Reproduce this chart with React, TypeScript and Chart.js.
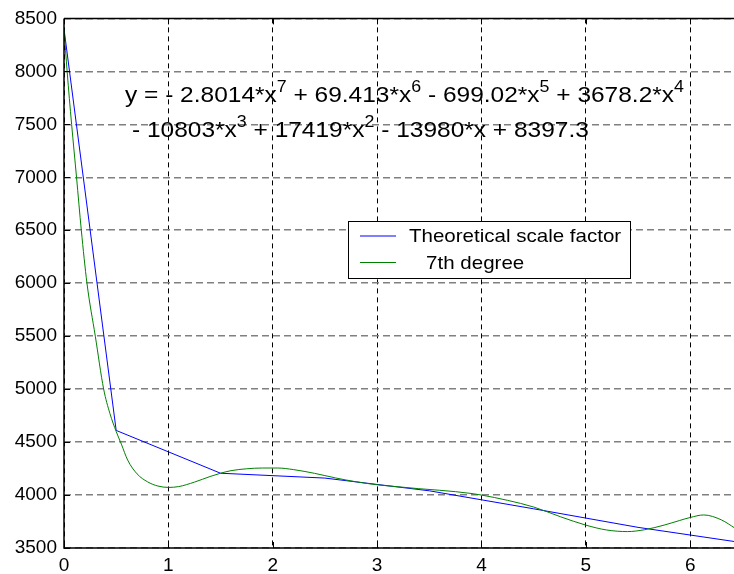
import React, { useEffect, useRef } from 'react';
import { Chart, registerables } from 'chart.js';

Chart.register(...registerables);

// ---- data ----
const theoryX = [0, 0.5, 1.5, 2.5, 3.5, 4.5, 5.5, 6.5];
const theoryY = [8400, 4610, 4206, 4160, 4040, 3870, 3695, 3550];

const fitX = [0, 0.03, 0.073, 0.12, 0.166, 0.22, 0.3, 0.38, 0.44, 0.5, 0.55, 0.61, 0.7, 0.8, 0.9, 1.0, 1.1, 1.25, 1.4, 1.5, 1.6, 1.75, 1.9, 2.05, 2.2, 2.4, 2.6, 2.8, 3.0, 3.2, 3.4, 3.6, 3.75, 3.9, 4.0, 4.25, 4.5, 4.76, 5.0, 5.2, 5.4, 5.56, 5.75, 5.9, 6.0, 6.13, 6.3, 6.43];
const fitY = [8400, 8000, 7500, 7000, 6500, 6000, 5500, 5000, 4770, 4600, 4480, 4330, 4200, 4125, 4085, 4072, 4080, 4122, 4175, 4206, 4230, 4248, 4255, 4255, 4240, 4205, 4162, 4125, 4097, 4078, 4060, 4045, 4032, 4015, 4000, 3950, 3887, 3794, 3716, 3670, 3655, 3672, 3716, 3760, 3788, 3812, 3765, 3687];

const seriesLabels = ['Theoretical scale factor', '   7th degree'];
const seriesColors = ['#0000ff', '#008000'];

const xTicks = [0, 1, 2, 3, 4, 5, 6];
const yTicks = [3500, 4000, 4500, 5000, 5500, 6000, 6500, 7000, 7500, 8000, 8500];
const xMin = 0;
const xMax = 6.42;
const yMin = 3500;
const yMax = 8500;

type Part = { t: string; sup?: boolean };
const eqLine1: Part[] = [
  { t: 'y = - 2.8014*x' }, { t: '7', sup: true },
  { t: ' + 69.413*x' }, { t: '6', sup: true },
  { t: ' - 699.02*x' }, { t: '5', sup: true },
  { t: ' + 3678.2*x' }, { t: '4', sup: true },
];
const eqLine2: Part[] = [
  { t: '- 10803*x' }, { t: '3', sup: true },
  { t: ' + 17419*x' }, { t: '2', sup: true },
  { t: ' - 13980*x + 8397.3' },
];

const FONT = '"Liberation Sans", Arial, Helvetica, sans-serif';

function drawRich(ctx: CanvasRenderingContext2D, parts: Part[], x: number, y: number, size: number, supSize: number, rise: number, sx: number) {
  ctx.save();
  ctx.translate(x, y);
  ctx.scale(sx, 1);
  ctx.fillStyle = '#000';
  ctx.textBaseline = 'alphabetic';
  ctx.textAlign = 'left';
  let cx = 0;
  for (const p of parts) {
    ctx.font = `${p.sup ? supSize : size}px ${FONT}`;
    ctx.fillText(p.t, cx, p.sup ? -rise : 0);
    cx += ctx.measureText(p.t).width;
  }
  ctx.restore();
}

const decorPlugin = {
  id: 'decor',
  afterDatasetsDraw(chart: any) {
    const { ctx, chartArea } = chart;
    const xs = chart.scales.x;
    const ys = chart.scales.y;
    ctx.save();
    ctx.strokeStyle = '#000';
    ctx.lineWidth = 1.5;
    ctx.setLineDash([]);
    ctx.beginPath();
    ctx.moveTo(chartArea.left, chartArea.top);
    ctx.lineTo(chartArea.right + 2, chartArea.top);
    ctx.moveTo(chartArea.left, chartArea.top);
    ctx.lineTo(chartArea.left, chartArea.bottom);
    ctx.lineTo(chartArea.right + 2, chartArea.bottom);
    ctx.stroke();
    ctx.lineWidth = 1;
    ctx.beginPath();
    for (const v of yTicks) {
      const py = Math.round(ys.getPixelForValue(v)) + 0.5;
      ctx.moveTo(chartArea.left, py);
      ctx.lineTo(chartArea.left + 6, py);
    }
    for (const v of xTicks) {
      const px = Math.round(xs.getPixelForValue(v)) + 0.5;
      ctx.moveTo(px, chartArea.bottom);
      ctx.lineTo(px, chartArea.bottom - 6);
      ctx.moveTo(px, chartArea.top);
      ctx.lineTo(px, chartArea.top + 6);
    }
    ctx.stroke();
    ctx.restore();
  },
  afterDraw(chart: any) {
    const { ctx } = chart;
    // equation annotation
    drawRich(ctx, eqLine1, 125, 102, 22, 16, 10, 1.113);
    drawRich(ctx, eqLine2, 132, 137, 22, 16, 10, 1.113);

    // legend box
    const bx = 348.5, by = 221.5, bw = 282, bh = 57;
    ctx.save();
    ctx.fillStyle = '#fff';
    ctx.fillRect(bx, by, bw, bh);
    ctx.strokeStyle = '#000';
    ctx.lineWidth = 1;
    ctx.setLineDash([]);
    ctx.strokeRect(bx, by, bw, bh);
    chart.data.datasets.forEach((ds: any, i: number) => {
      const ly = 236 + i * 26.5;
      ctx.strokeStyle = ds.borderColor;
      ctx.lineWidth = 1;
      ctx.beginPath();
      ctx.moveTo(360, ly);
      ctx.lineTo(396, ly);
      ctx.stroke();
      ctx.save();
      ctx.translate(409, ly + 6);
      ctx.scale(1.08, 1);
      ctx.fillStyle = '#000';
      ctx.font = `19px ${FONT}`;
      ctx.textBaseline = 'alphabetic';
      ctx.fillText(ds.label, 0, 0);
      ctx.restore();
    });
    ctx.restore();
  },
};

export default function App() {
  const ref = useRef<HTMLCanvasElement | null>(null);
  useEffect(() => {
    document.body.style.margin = '0';
    if (!ref.current) return;
    const chart = new Chart(ref.current, {
      type: 'line',
      data: {
        datasets: [
          {
            label: seriesLabels[0],
            data: theoryX.map((x, i) => ({ x, y: theoryY[i] })),
            borderColor: seriesColors[0],
            borderWidth: 1,
            pointRadius: 0,
            tension: 0,
            order: 1,
          },
          {
            label: seriesLabels[1],
            data: fitX.map((x, i) => ({ x, y: fitY[i] })),
            borderColor: seriesColors[1],
            borderWidth: 1,
            pointRadius: 0,
            cubicInterpolationMode: 'monotone',
            order: 0,
          },
        ],
      },
      options: {
        animation: false,
        responsive: false,
        maintainAspectRatio: false,
        events: [],
        layout: { padding: { top: 16, left: 0, right: 0, bottom: 0 } },
        plugins: { legend: { display: false }, tooltip: { enabled: false } },
        scales: {
          x: {
            type: 'linear',
            min: xMin,
            max: xMax,
            afterBuildTicks: (s: any) => { s.ticks = xTicks.map((v) => ({ value: v })); },
            afterFit: (s: any) => { s.height = 26; },
            grid: { color: '#000', lineWidth: 1, drawTicks: false },
            border: { display: false, dash: [5, 4] },
            ticks: { padding: 6, color: '#000', font: { family: FONT, size: 19 }, maxRotation: 0, autoSkip: false, callback: (v: any) => String(v) },
          },
          y: {
            type: 'linear',
            min: yMin,
            max: yMax,
            afterBuildTicks: (s: any) => { s.ticks = yTicks.map((v) => ({ value: v })); },
            afterFit: (s: any) => { s.width = 64; },
            grid: { color: '#808080', lineWidth: 1.5, drawTicks: false },
            border: { display: false, dash: [7, 4] },
            ticks: { padding: 7, color: '#000', font: { family: FONT, size: 19 }, autoSkip: false, callback: (v: any) => String(v) },
          },
        },
      },
      plugins: [decorPlugin],
    } as any);
    return () => chart.destroy();
  }, []);
  return (
    <div style={{ width: 734, height: 574 }}>
      <canvas ref={ref} width={734} height={574} style={{ display: 'block' }} />
    </div>
  );
}
